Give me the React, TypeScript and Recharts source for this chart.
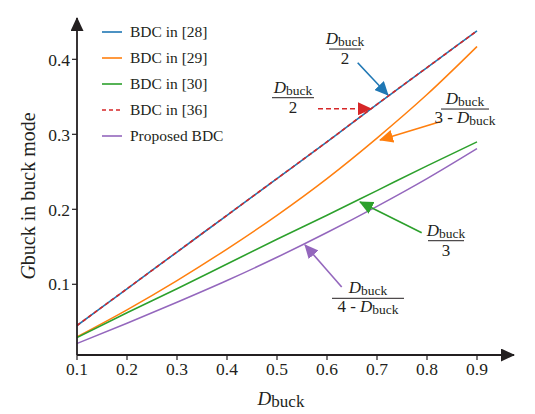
import React from 'react';
import {
  LineChart,
  Line,
  XAxis,
  YAxis,
  Legend,
  ReferenceLine,
  ReferenceDot,
} from 'recharts';

// duty cycle D_buck
const dutyCycle = [0.1, 0.2, 0.3, 0.4, 0.5, 0.6, 0.7, 0.8, 0.9];
// voltage gain in buck mode
const bdc28 = [0.045, 0.094, 0.143, 0.192, 0.241, 0.29, 0.34, 0.389, 0.438];
const bdc29 = [0.03, 0.066, 0.105, 0.147, 0.192, 0.241, 0.295, 0.353, 0.417];
const bdc30 = [0.029, 0.062, 0.094, 0.127, 0.16, 0.192, 0.225, 0.258, 0.29];
const bdc36 = [0.045, 0.094, 0.143, 0.192, 0.241, 0.29, 0.34, 0.389, 0.438];
const proposed = [0.021, 0.048, 0.076, 0.105, 0.136, 0.169, 0.204, 0.241, 0.281];

const xTicks = [0.1, 0.2, 0.3, 0.4, 0.5, 0.6, 0.7, 0.8, 0.9];
const yTicks = [0.1, 0.2, 0.3, 0.4];

const BLUE = '#1f77b4';
const ORANGE = '#ff7f0e';
const GREEN = '#2ca02c';
const RED = '#d62728';
const PURPLE = '#9467bd';
const INK = '#231f20';
const SERIF = '"Liberation Serif", "Times New Roman", Times, serif';

const data = dutyCycle.map((d, i) => ({
  d,
  bdc28: bdc28[i],
  bdc29: bdc29[i],
  bdc30: bdc30[i],
  bdc36: bdc36[i],
  proposed: proposed[i],
}));

const legendItems = [
  { name: 'BDC in [28]', color: BLUE, dash: undefined },
  { name: 'BDC in [29]', color: ORANGE, dash: undefined },
  { name: 'BDC in [30]', color: GREEN, dash: undefined },
  { name: 'BDC in [36]', color: RED, dash: '4 3' },
  { name: 'Proposed BDC', color: PURPLE, dash: undefined },
];

function LegendBox() {
  return (
    <div style={{ fontFamily: SERIF, fontSize: 15.5, color: INK, lineHeight: '26px' }}>
      {legendItems.map(item => (
        <div key={item.name} style={{ height: 26, display: 'flex', alignItems: 'center' }}>
          <svg width={28} height={10}>
            <line x1={0} y1={5} x2={20} y2={5} stroke={item.color} strokeWidth={1.6} strokeDasharray={item.dash} />
          </svg>
          <span>{item.name}</span>
        </div>
      ))}
    </div>
  );
}

function Dbuck({ x, y }: { x: number; y: number }) {
  return (
    <text x={x} y={y} textAnchor="middle" style={{ fontFamily: SERIF }} fill={INK}>
      <tspan fontStyle="italic" fontSize={17}>D</tspan>
      <tspan fontSize={13.5} dy={2}>buck</tspan>
    </text>
  );
}

// D_buck over a denominator, centred on the fraction bar
function Fraction(props: any) {
  const { cx, cy, barWidth, denom } = props;
  if (cx == null || cy == null) return null;
  return (
    <g>
      <Dbuck x={cx} y={cy - 5} />
      <line x1={cx - barWidth / 2} y1={cy} x2={cx + barWidth / 2} y2={cy} stroke={INK} strokeWidth={1} />
      {denom ? (
        <text x={cx} y={cy + 14} textAnchor="middle" style={{ fontFamily: SERIF }} fill={INK} fontSize={17}>
          <tspan>{denom} - </tspan>
          <tspan fontStyle="italic">D</tspan>
          <tspan fontSize={13.5} dy={2}>buck</tspan>
        </text>
      ) : (
        <text x={cx} y={cy + 15} textAnchor="middle" style={{ fontFamily: SERIF }} fill={INK} fontSize={17}>
          {props.plain}
        </text>
      )}
    </g>
  );
}

const arrowColors = { blue: BLUE, red: RED, orange: ORANGE, green: GREEN, purple: PURPLE, ink: INK };

export default function App() {
  return (
    <div style={{ marginLeft: -8, marginTop: -8, width: 535, height: 414, background: '#fff' }}>
      <LineChart width={535} height={414} data={data} margin={{ top: 18, right: 21, left: 0, bottom: 29 }}>
        <defs>
          {Object.entries(arrowColors).map(([k, c]) => (
            <marker
              key={k}
              id={`head-${k}`}
              markerUnits="userSpaceOnUse"
              markerWidth={14}
              markerHeight={13}
              viewBox="0 0 14 13"
              refX={13}
              refY={6.5}
              orient="auto-start-reverse"
            >
              <path d="M0,0 L14,6.5 L0,13 z" fill={c} />
            </marker>
          ))}
        </defs>
        <XAxis
          type="number"
          dataKey="d"
          domain={[0.1, 0.974]}
          ticks={xTicks}
          allowDataOverflow
          height={30}
          tickFormatter={v => v.toFixed(1)}
          tick={{ fill: INK, fontSize: 17.5, style: { fontFamily: SERIF } }}
          tickSize={5}
          tickMargin={3}
          tickLine={{ stroke: INK, strokeWidth: 1.2 }}
          axisLine={{ stroke: INK, strokeWidth: 1.8, markerEnd: 'url(#head-ink)' }}
        />
        <YAxis
          type="number"
          domain={[0.0057, 0.4551]}
          ticks={yTicks}
          allowDataOverflow
          width={77}
          tickFormatter={v => v.toFixed(1)}
          tick={{ fill: INK, fontSize: 17.5, style: { fontFamily: SERIF } }}
          tickSize={5}
          tickMargin={2}
          tickLine={{ stroke: INK, strokeWidth: 1.2 }}
          axisLine={{ stroke: INK, strokeWidth: 1.8, markerStart: 'url(#head-ink)' }}
        />
        <Legend
          layout="vertical"
          verticalAlign="middle"
          align="center"
          wrapperStyle={{ left: 102, top: 19, width: 140 }}
          content={() => <LegendBox />}
        />
        <Line type="monotone" dataKey="bdc29" stroke={ORANGE} strokeWidth={1.5} dot={false} isAnimationActive={false} />
        <Line type="monotone" dataKey="bdc30" stroke={GREEN} strokeWidth={1.5} dot={false} isAnimationActive={false} />
        <Line type="monotone" dataKey="proposed" stroke={PURPLE} strokeWidth={1.5} dot={false} isAnimationActive={false} />
        <Line type="monotone" dataKey="bdc28" stroke={BLUE} strokeWidth={1.6} dot={false} isAnimationActive={false} />
        <Line type="monotone" dataKey="bdc36" stroke={RED} strokeWidth={1.6} strokeDasharray="4 3" dot={false} isAnimationActive={false} />

        {/* annotation arrows */}
        <ReferenceLine segment={[{ x: 0.6614, y: 0.3955 }, { x: 0.722, y: 0.3524 }]} stroke={BLUE} strokeWidth={1.6} markerEnd="url(#head-blue)" />
        <ReferenceLine segment={[{ x: 0.582, y: 0.3341 }, { x: 0.688, y: 0.3341 }]} stroke={RED} strokeWidth={1.6} strokeDasharray="5 3" markerEnd="url(#head-red)" />
        <ReferenceLine segment={[{ x: 0.826, y: 0.3168 }, { x: 0.706, y: 0.2924 }]} stroke={ORANGE} strokeWidth={1.6} markerEnd="url(#head-orange)" />
        <ReferenceLine segment={[{ x: 0.7894, y: 0.1688 }, { x: 0.666, y: 0.2097 }]} stroke={GREEN} strokeWidth={1.6} markerEnd="url(#head-green)" />
        <ReferenceLine segment={[{ x: 0.6294, y: 0.0964 }, { x: 0.556, y: 0.1524 }]} stroke={PURPLE} strokeWidth={1.6} markerEnd="url(#head-purple)" />

        {/* annotation formulas */}
        <ReferenceDot x={0.636} y={0.4137} r={0} shape={(p: any) => <Fraction {...p} barWidth={32} plain="2" />} />
        <ReferenceDot x={0.532} y={0.3488} r={0} shape={(p: any) => <Fraction {...p} barWidth={42} plain="2" />} />
        <ReferenceDot x={0.876} y={0.3337} r={0} shape={(p: any) => <Fraction {...p} barWidth={48} denom="3" />} />
        <ReferenceDot x={0.838} y={0.1581} r={0} shape={(p: any) => <Fraction {...p} barWidth={36} plain="3" />} />
        <ReferenceDot x={0.682} y={0.0813} r={0} shape={(p: any) => <Fraction {...p} barWidth={72} denom="4" />} />

        {/* axis titles */}
        <text x={281} y={405} textAnchor="middle" style={{ fontFamily: SERIF }} fill={INK}>
          <tspan fontStyle="italic" fontSize={19}>D</tspan>
          <tspan fontSize={17} dy={2}>buck</tspan>
        </text>
        <text
          x={35}
          y={196}
          transform="rotate(-90 35 196)"
          textAnchor="middle"
          style={{ fontFamily: SERIF }}
          fontSize={20}
          fill={INK}
        >
          <tspan fontStyle="italic">G</tspan>
          <tspan>buck in buck mode</tspan>
        </text>
      </LineChart>
    </div>
  );
}
